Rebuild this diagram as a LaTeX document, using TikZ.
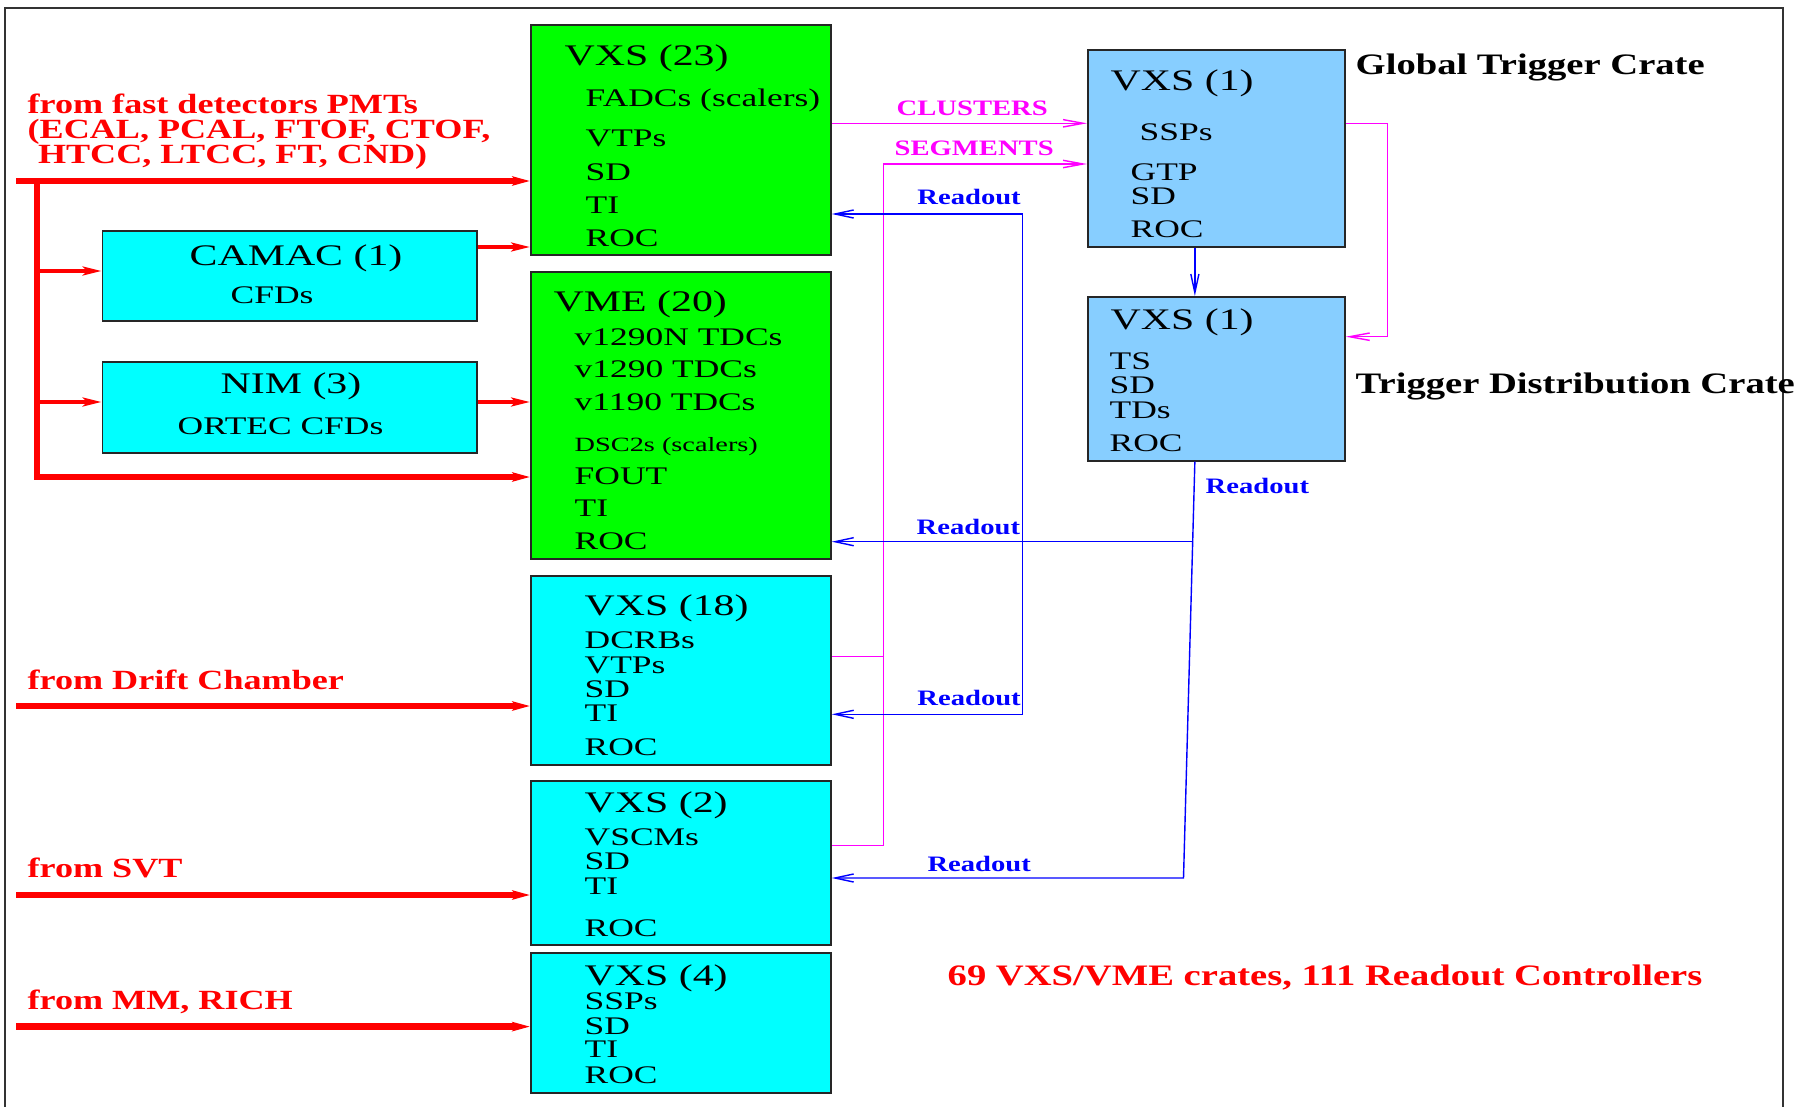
\documentclass[tikz,border=0pt]{standalone}
\usepackage{fontspec}
\setmainfont{Liberation Serif}[FakeStretch=1.4]
\newfontfamily\tagfont{Liberation Serif}[FakeStretch=1.3]
\usetikzlibrary{arrows.meta, positioning}

\definecolor{crategreen}{RGB}{0,255,0}
\definecolor{cratecyan}{RGB}{0,255,255}
\definecolor{trigblue}{RGB}{135,206,255}
\definecolor{feedred}{RGB}{255,0,0}
\definecolor{trigpink}{RGB}{255,0,255}
\definecolor{roblue}{RGB}{0,0,255}

\tikzset{
  crate/.style={draw=black!85, line width=0.45pt, anchor=north west, inner sep=0pt},
  title/.style={anchor=base west, inner sep=0pt, font={\fontsize{8.5}{10}\selectfont}},
  item/.style={anchor=base west, inner sep=0pt, font={\fontsize{7.2}{8.5}\selectfont}},
  tag/.style={anchor=base west, inner sep=0pt, font={\tagfont\bfseries\fontsize{7.9}{9}\selectfont}},
  bigtag/.style={anchor=base west, inner sep=0pt, font={\tagfont\bfseries\fontsize{8.45}{10}\selectfont}},
  linktag/.style={anchor=base west, inner sep=0pt, font={\tagfont\bfseries\fontsize{6.26}{7}\selectfont}},
  feed/.style={feedred, line width=1.9pt, -{Stealth[length=5pt, width=2.6pt, inset=1pt]}},
  branch/.style={feedred, line width=1.2pt, -{Stealth[length=5.3pt, width=2.5pt, inset=1.2pt]}},
  trig/.style={trigpink, line width=0.4pt, -{Straight Barb[length=5.7pt, width=2.1pt]}},
  readout/.style={roblue, line width=0.4pt, -{Straight Barb[length=5.3pt, width=2.3pt]}}
}

\begin{document}
\begin{tikzpicture}[x=0.01cm, y=-0.01cm]
  \useasboundingbox (0,0) rectangle (1794,1106);
  % outer frame, open at the bottom
  \draw[black!80, line width=0.4pt] (5,1110) -- (5,8) -- (1783,8) -- (1783,1110);

  % front-end crates
  \node[crate, fill=crategreen, minimum width=3cm, minimum height=2.3cm] (fadc) at (530,24) {};
  \node[crate, fill=crategreen, minimum width=3cm, minimum height=2.87cm] (vme) at (530,271) {};
  \node[crate, fill=cratecyan, minimum width=3cm, minimum height=1.89cm] (dcrb) at (530,575) {};
  \node[crate, fill=cratecyan, minimum width=3cm, minimum height=1.64cm] (vscm) at (530,780) {};
  \node[crate, fill=cratecyan, minimum width=3cm, minimum height=1.4cm] (ssp) at (530,952) {};
  \node[crate, fill=cratecyan, minimum width=3.744cm, minimum height=0.9cm] (camac) at (101.6,230) {};
  \node[crate, fill=cratecyan, minimum width=3.744cm, minimum height=0.91cm] (nim) at (101.6,361) {};
  % trigger crates
  \node[crate, fill=trigblue, minimum width=2.57cm, minimum height=1.97cm] (gtc) at (1087,49) {};
  \node[crate, fill=trigblue, minimum width=2.57cm, minimum height=1.64cm] (tdc) at (1087,296) {};

  % crate contents
  \node[title] (fadc-t) at (564,65) {VXS (23)};
  \foreach \yy/\txt [count=\k] in {106.7/FADCs (scalers), 146.7/VTPs, 180.7/SD, 213.3/TI, 246.7/ROC}
    \node[item] (fadc-\k) at (585,\yy) {\txt};
  \node[title] (vme-t) at (553,311.7) {VME (20)};
  \foreach \yy/\txt [count=\k] in {345/v1290N TDCs, 377.7/v1290 TDCs, 410/v1190 TDCs, 484.3/FOUT, 516.7/TI, 549/ROC}
    \node[item] (vme-\k) at (574,\yy) {\txt};
  \node[item, font={\fontsize{5.75}{7}\selectfont}] (vme-dsc) at (574,451) {DSC2s (scalers)};
  \node[title] (camac-t) at (189,265) {CAMAC (1)};
  \node[item] (camac-1) at (230,303.3) {CFDs};
  \node[title] (nim-t) at (220,393.3) {NIM (3)};
  \node[item] (nim-1) at (177,434.3) {ORTEC CFDs};
  \node[title] (dcrb-t) at (584,615.7) {VXS (18)};
  \foreach \yy/\txt [count=\k] in {648.8/DCRBs, 673.2/VTPs, 697.5/SD, 721.9/TI, 755.7/ROC}
    \node[item] (dcrb-\k) at (584,\yy) {\txt};
  \node[title] (vscm-t) at (584,812.4) {VXS (2)};
  \foreach \yy/\txt [count=\k] in {845.5/VSCMs, 869.9/SD, 894.3/TI, 936/ROC}
    \node[item] (vscm-\k) at (584,\yy) {\txt};
  \node[title] (ssp-t) at (584,985.5) {VXS (4)};
  \foreach \yy/\txt [count=\k] in {1009/SSPs, 1034.2/SD, 1057.9/TI, 1083/ROC}
    \node[item] (ssp-\k) at (584,\yy) {\txt};
  \node[title] (gtc-t) at (1110,90) {VXS (1)};
  \node[item] (gtc-1) at (1139,140) {SSPs};
  \foreach \yy/\txt [count=\k from 2] in {180/GTP, 204/SD, 237.3/ROC}
    \node[item] (gtc-\k) at (1130,\yy) {\txt};
  \node[title] (tdc-t) at (1110,329) {VXS (1)};
  \foreach \yy/\txt [count=\k] in {369/TS, 393.3/SD, 418.3/TDs, 451/ROC}
    \node[item] (tdc-\k) at (1109,\yy) {\txt};

  % labels
  \node[tag, text=feedred] (pmt-1) at (27,113.3) {from fast detectors PMTs};
  \node[tag, text=feedred] (pmt-2) at (27,138.3) {(ECAL, PCAL, FTOF, CTOF,};
  \node[tag, text=feedred] (pmt-3) at (37.3,163.3) {HTCC, LTCC, FT, CND)};
  \node[tag, text=feedred] (dc-tag) at (27,689.5) {from Drift Chamber};
  \node[tag, text=feedred] (svt-tag) at (27,877.6) {from SVT};
  \node[tag, text=feedred] (rich-tag) at (27,1009.9) {from MM, RICH};
  \node[bigtag] (gtc-tag) at (1355,74) {Global Trigger Crate};
  \node[bigtag] (tdc-tag) at (1355,393.3) {Trigger Distribution Crate};
  \node[bigtag, text=feedred] (summary) at (947,985.5) {69 VXS/VME crates, 111 Readout Controllers};
  \node[linktag, text=trigpink] (clus-tag) at (896,115) {CLUSTERS};
  \node[linktag, text=trigpink] (seg-tag) at (894,155.7) {SEGMENTS};
  \node[linktag, text=roblue] (ro-1) at (916.7,204.3) {Readout};
  \node[linktag, text=roblue] (ro-2) at (916,534) {Readout};
  \node[linktag, text=roblue] (ro-3) at (1205,493.3) {Readout};
  \node[linktag, text=roblue] (ro-4) at (916.7,705.5) {Readout};
  \node[linktag, text=roblue] (ro-5) at (926.8,871) {Readout};

  % detector signals
  \coordinate (pmt-in) at (16,181);
  \coordinate (bus-top) at (37,181);
  \coordinate (bus-bot) at (37,477);
  \coordinate (camac-in) at (37,271);
  \coordinate (nim-in) at (37,402);
  \coordinate (camac-out) at (476,247);
  \coordinate (dc-in) at (16,706);
  \coordinate (svt-in) at (16,895);
  \coordinate (rich-in) at (16,1026.6);
  \draw[feed] (pmt-in) -- (fadc.west |- pmt-in);
  \draw[feed] (bus-top) -- (bus-bot) -- (vme.west |- bus-bot);
  \draw[branch] (camac-in) -- (camac.west |- camac-in);
  \draw[branch] (nim-in) -- (nim.west |- nim-in);
  \draw[branch] (camac.east |- camac-out) -- (fadc.west |- camac-out);
  \draw[branch] (nim.east |- nim-in) -- (vme.west |- nim-in);
  \draw[feed] (dc-in) -- (dcrb.west |- dc-in);
  \draw[feed] (svt-in) -- (vscm.west |- svt-in);
  \draw[feed] (rich-in) -- (ssp.west |- rich-in);

  % trigger links
  \coordinate (clus) at (1000,123.3);
  \coordinate (seg-bus) at (883.3,164);
  \coordinate (dc-trig) at (883.3,656.7);
  \coordinate (svt-trig) at (883.3,845.5);
  \coordinate (gt-loop) at (1387.3,123.3);
  \coordinate (gt-down) at (1387.3,336.7);
  \draw[trig] (fadc.east |- clus) -- (gtc.west |- clus);
  \draw[trig] (vscm.east |- svt-trig) -- (svt-trig) -- (seg-bus) -- (gtc.west |- seg-bus);
  \draw[trig, -] (dcrb.east |- dc-trig) -- (dc-trig);
  \draw[trig] (gtc.east |- gt-loop) -- (gt-loop) -- (gt-down) -- (tdc.east |- gt-down);

  % readout links
  \coordinate (ro-top) at (1022.6,214);
  \coordinate (ro-bot) at (1022.6,714.3);
  \coordinate (ro-vme) at (1192.5,541.7);
  \coordinate (ro-svt) at (1183.5,878);
  \draw[readout, {Straight Barb[length=5.3pt, width=2.3pt]}-{Straight Barb[length=5.3pt, width=2.3pt]}]
    (fadc.east |- ro-top) -- (ro-top) -- (ro-bot) -- (dcrb.east |- ro-bot);
  \draw[readout] ([xshift=-0.215cm]gtc.south) -- ([xshift=-0.215cm]tdc.north);
  \draw[readout] ([xshift=-0.215cm]tdc.south) -- (ro-svt) -- (vscm.east |- ro-svt);
  \draw[readout] (ro-vme) -- (vme.east |- ro-vme);
\end{tikzpicture}
\end{document}
